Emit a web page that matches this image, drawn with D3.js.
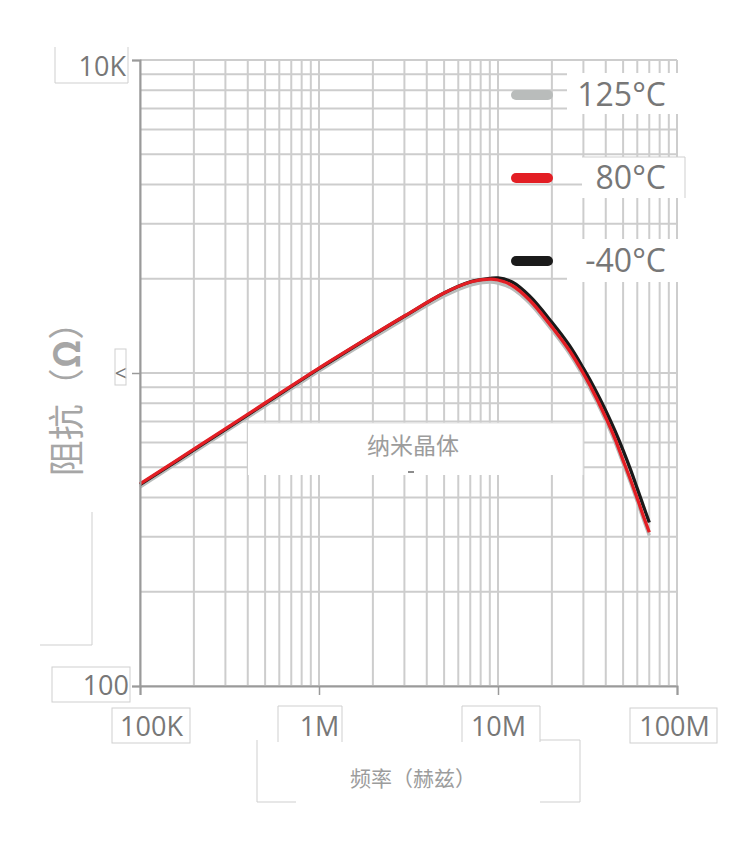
<!DOCTYPE html>
<html>
<head>
<meta charset="utf-8">
<script src="https://cdn.jsdelivr.net/npm/d3@7"></script>
<style>
  body { margin: 0; background: #fff; }
  svg { display: block; }
</style>
</head>
<body>
<div id="chart"></div>
<script>
// frequency points (Hz) and impedance (ohm) per temperature
const freqs = [1e5, 2e5, 5e5, 1e6, 2e6, 3e6, 5e6, 7e6, 9e6, 1e7, 1.2e7, 1.5e7, 2e7, 2.5e7, 3e7, 3.5e7, 4e7, 4.5e7, 5e7, 5.5e7, 6e7, 6.5e7, 7e7];
const z125 = [432, 558, 784, 1014, 1294, 1488, 1761, 1910, 1952, 1938, 1862, 1673, 1372, 1156, 974, 826, 704, 603, 514, 446, 388, 340, 303];
const z80 = [442, 571, 802, 1037, 1323, 1521, 1801, 1953, 1996, 1982, 1904, 1711, 1403, 1182, 996, 845, 720, 617, 526, 456, 397, 348, 310];
const zm40 = [440, 568, 798, 1032, 1320, 1518, 1801, 1955, 2004, 2012, 1953, 1762, 1452, 1226, 1034, 883, 758, 654, 566, 491, 427, 375, 333];

const seriesNames = ["125°C", "80°C", "-40°C"];
const seriesColors = ["#b9bcbb", "#e31e24", "#1a1a1a"];

const xTickVals = [1e5, 1e6, 1e7, 1e8];
const xTickLabels = ["100K", "1M", "10M", "100M"];
const yTickVals = [1e2, 1e3, 1e4];
const yTickLabels = ["100", "<", "10K"];

const xTitle = "频率（赫兹）";
const yTitleText = "阻抗（";
const yTitleUnit = "Ω";
const boxTitle = "纳米晶体";

const width = 750, height = 850;
const svg = d3.select("#chart").append("svg")
  .attr("width", width)
  .attr("height", height);

const x = d3.scaleLog().domain([1e5, 1e8]).range([140, 677]);
const y = d3.scaleLog().domain([1e2, 1e4]).range([686, 60]);

//Grid
const grid = svg.append("g").attr("stroke", "#cdcdcd").attr("stroke-width", 2);
grid.selectAll(".vx").data(x.ticks()).enter().append("line")
  .attr("x1", d => x(d)).attr("x2", d => x(d))
  .attr("y1", y(1e4)).attr("y2", y(1e2));
grid.selectAll(".hy").data(y.ticks()).enter().append("line")
  .attr("x1", x(1e5)).attr("x2", x(1e8))
  .attr("y1", d => y(d)).attr("y2", d => y(d));

//White patches that sit over the grid (label backgrounds)
const boxes = svg.append("g");
boxes.append("rect").attr("x", 248).attr("y", 423).attr("width", 335).attr("height", 52)
  .attr("fill", "#fff");
boxes.append("path").attr("d", "M248,423 H583 V475").attr("fill", "none")
  .attr("stroke", "#e2e2e2").attr("stroke-width", 1);
boxes.append("rect").attr("x", 567).attr("y", 73).attr("width", 111).attr("height", 41).attr("fill", "#fff");
boxes.append("rect").attr("x", 582).attr("y", 157).attr("width", 103).attr("height", 41).attr("fill", "#fff");
boxes.append("path").attr("d", "M582,157 H685 V198").attr("fill", "none").attr("stroke", "#cfcfcf");
boxes.append("rect").attr("x", 567).attr("y", 239).attr("width", 111).attr("height", 43).attr("fill", "#fff");

//Curves: grey below, black, red on top
const line = d3.line()
  .x((d, i) => x(freqs[i]))
  .y(d => y(d))
  .curve(d3.curveCatmullRom.alpha(0.5));

const series = [z125, zm40, z80];
const seriesCol = [seriesColors[0], seriesColors[2], seriesColors[1]];
series.forEach((s, i) => {
  svg.append("path")
    .datum(s)
    .attr("fill", "none")
    .attr("stroke", seriesCol[i])
    .attr("stroke-width", 3.3)
    .attr("stroke-linejoin", "round")
    .attr("d", line);
});

//Axes
const xAxis = svg.append("g")
  .attr("transform", "translate(0," + y(1e2) + ")")
  .call(d3.axisBottom(x).tickValues(xTickVals).tickSize(9)
    .tickFormat((d, i) => xTickLabels[i]));
const yAxis = svg.append("g")
  .attr("transform", "translate(" + x(1e5) + ",0)")
  .call(d3.axisLeft(y).tickValues(yTickVals).tickSize(8)
    .tickFormat((d, i) => yTickLabels[i]));

[xAxis, yAxis].forEach(a => {
  a.select(".domain").attr("stroke", "#9a9a9a").attr("stroke-width", 2);
  a.selectAll(".tick line").attr("stroke", "#9a9a9a").attr("stroke-width", 1.5);
  a.selectAll(".tick text")
    .attr("fill", "#777")
    .style("font-family", "'Open Sans', 'Noto Sans', sans-serif")
    .style("font-size", "27px");
});
xAxis.selectAll(".tick text").attr("y", 50).attr("dy", 0);
xAxis.selectAll(".tick").each(function (d, i) {
  const t = d3.select(this);
  if (i == 0) t.select("text").attr("x", 11);
  if (i == 3) t.select("text").attr("x", -3);
});
yAxis.selectAll(".tick text").attr("x", -11);
yAxis.selectAll(".tick").filter(d => d == 1e3).select("text")
  .style("font-size", "22px").attr("x", -13);
yAxis.selectAll(".tick").filter(d => d == 1e4).select("text").attr("y", 7).attr("x", -14);

//Label frames
const frames = svg.append("g").attr("fill", "none").attr("stroke", "#cfcfcf").attr("stroke-width", 1);
frames.append("path").attr("d", "M55,47 V83 H128 V47");
frames.append("rect").attr("x", 52).attr("y", 667).attr("width", 78).attr("height", 35);
frames.append("rect").attr("x", 115).attr("y", 349).attr("width", 11).attr("height", 36);
frames.append("rect").attr("x", 112).attr("y", 708).attr("width", 78).attr("height", 35);
frames.append("path").attr("d", "M278,742 V706 H342 V742");
frames.append("path").attr("d", "M462,742 V706 H540 V742");
frames.append("rect").attr("x", 630).attr("y", 708).attr("width", 87).attr("height", 35);
frames.append("path").attr("d", "M257,740 V802 H296 M540,802 H580 V740 H540");
frames.append("path").attr("d", "M92,512 V645 H40");

//Axis titles
svg.append("text")
  .attr("x", 413).attr("y", 786)
  .attr("text-anchor", "middle")
  .attr("fill", "#9c9c9c")
  .style("font-family", "'Noto Sans CJK SC', sans-serif")
  .style("font-size", "21px")
  .text(xTitle);

const yt = svg.append("text")
  .attr("transform", "translate(80,390) rotate(-90)")
  .attr("text-anchor", "middle")
  .attr("fill", "#a6a6a6")
  .style("font-family", "'Noto Sans CJK SC', sans-serif")
  .style("font-size", "36px");
yt.append("tspan").text(yTitleText);
yt.append("tspan").style("font-weight", "bold").text(yTitleUnit);
yt.append("tspan").text("）");

svg.append("text")
  .attr("x", 413).attr("y", 454)
  .attr("text-anchor", "middle")
  .attr("fill", "#9c9c9c")
  .style("font-family", "'Noto Sans CJK SC', sans-serif")
  .style("font-size", "23px")
  .text(boxTitle);
svg.append("line").attr("x1", 408).attr("x2", 414).attr("y1", 472).attr("y2", 472)
  .attr("stroke", "#666").attr("stroke-width", 1.5);

//Legend
const legY = [95, 178, 261];
const legend = svg.append("g");
seriesNames.forEach((name, i) => {
  legend.append("line")
    .attr("x1", 516).attr("x2", 548)
    .attr("y1", legY[i]).attr("y2", legY[i])
    .attr("stroke", seriesColors[i])
    .attr("stroke-width", 10)
    .attr("stroke-linecap", "round");
  legend.append("text")
    .attr("x", 666).attr("y", legY[i] + 11)
    .attr("text-anchor", "end")
    .attr("fill", "#777")
    .style("font-family", "'Open Sans', 'Noto Sans', sans-serif")
    .style("font-size", "32px")
    .text(name);
});
</script>
</body>
</html>
